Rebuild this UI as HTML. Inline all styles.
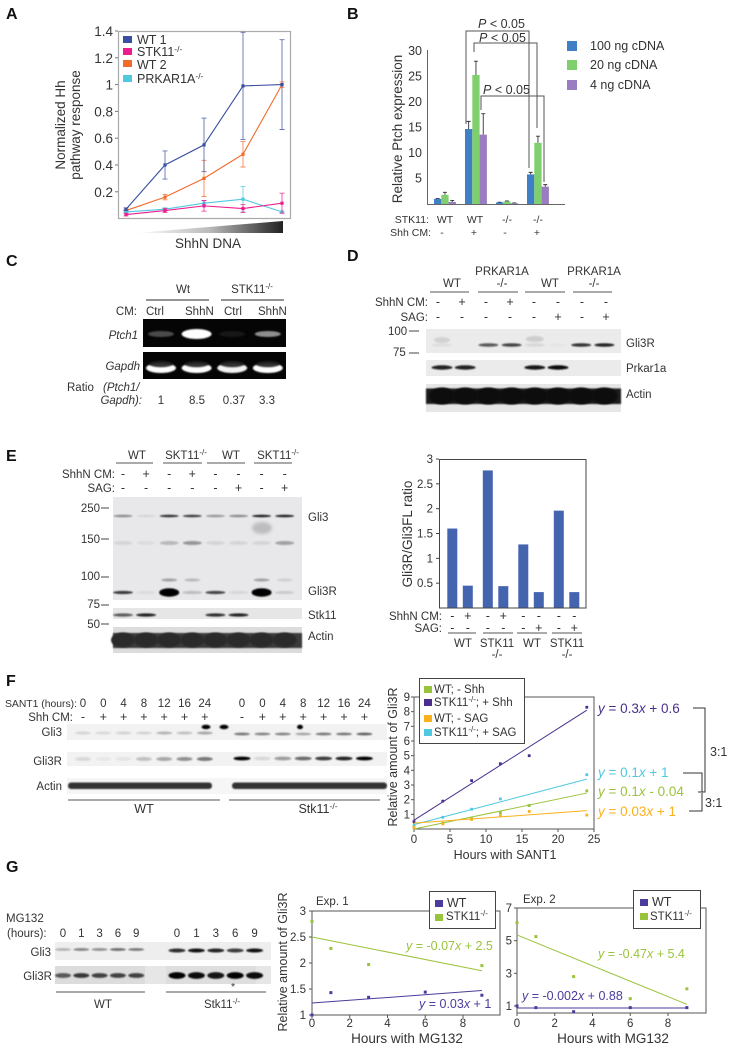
<!DOCTYPE html>
<html lang="en">
<head>
<meta charset="utf-8">
<title>Multi-panel figure</title>
<style>
html,body{margin:0;padding:0;background:#fff;width:732px;height:1050px;overflow:hidden}
svg{display:block;filter:blur(0.35px)}
text{font-family:"Liberation Sans",sans-serif;fill:#333}
.l{font-weight:bold;font-size:16px;fill:#111}
.s10{font-size:10.5px}.s11{font-size:10.5px}.s12{font-size:11.5px}.s125{font-size:12.5px}.s13{font-size:12.5px}.s135{font-size:13.5px}.s14{font-size:13.5px}
.e{text-anchor:end}.m{text-anchor:middle}
.i{font-style:italic}
sup,.sup{font-size:70%}
</style>
</head>
<body>
<svg id="fig" xmlns="http://www.w3.org/2000/svg" width="732" height="1050" viewBox="0 0 732 1050">
<defs>
<filter id="b1" x="-30%" y="-100%" width="160%" height="300%"><feGaussianBlur stdDeviation="0.8"/></filter>
<filter id="b2" x="-30%" y="-60%" width="160%" height="220%"><feGaussianBlur stdDeviation="1.6"/></filter>
<linearGradient id="wedge" x1="0" x2="1" y1="0" y2="0"><stop offset="0" stop-color="#fff"/><stop offset="0.5" stop-color="#bbb"/><stop offset="1" stop-color="#222"/></linearGradient>
</defs>

<!-- Panel letters -->
<text class="l" x="6" y="19">A</text>
<text class="l" x="347" y="19">B</text>
<text class="l" x="6" y="266">C</text>
<text class="l" x="347" y="261">D</text>
<text class="l" x="6" y="461">E</text>
<text class="l" x="6" y="686">F</text>
<text class="l" x="6" y="872">G</text>

<!-- Panel A static -->
<rect x="118.500" y="31.500" width="172" height="187" fill="none" stroke="#aaa" stroke-width="1.2"/>
<g id="a"></g>
<text class="s14 m" transform="translate(65 125) rotate(-90)">Normalized Hh</text>
<text class="s14 m" transform="translate(80 125) rotate(-90)">pathway response</text>
<rect x="123" y="36" width="9" height="7" fill="#3a4fa0"/>
<rect x="123" y="48" width="9" height="7" fill="#ec1c8e"/>
<rect x="123" y="60" width="9" height="7" fill="#f26b2a"/>
<rect x="123" y="75" width="9" height="7" fill="#4fc8e0"/>
<text class="s13" x="137" y="44">WT 1</text>
<text class="s13" x="137" y="56">STK11<tspan dy="-4" font-size="8.500">-/-</tspan></text>
<text class="s13" x="137" y="69">WT 2</text>
<text class="s13" x="137" y="83">PRKAR1A<tspan dy="-4" font-size="8.500">-/-</tspan></text>
<polygon points="135,233 283,221 283,233" fill="url(#wedge)"/>
<text class="s135 m" x="208" y="248">ShhN DNA</text>

<!-- Panel B static -->
<g id="b"></g>
<text class="s14 m" fill="#444" transform="translate(402 129) rotate(-90)">Relative Ptch expression</text>
<path d="M466 124V31H529V168" fill="none" stroke="#555" stroke-width="1"/>
<path d="M474 52V43H537V128" fill="none" stroke="#555" stroke-width="1"/>
<path d="M481 110V96H544V182" fill="none" stroke="#555" stroke-width="1"/>
<text class="s13" x="478" y="28"><tspan class="i">P</tspan> &lt; 0.05</text>
<text class="s13" x="479" y="42"><tspan class="i">P</tspan> &lt; 0.05</text>
<text class="s13" x="483" y="94"><tspan class="i">P</tspan> &lt; 0.05</text>
<rect x="567" y="41" width="10" height="10" fill="#3f7fc6"/>
<rect x="567" y="60" width="10" height="10" fill="#7fcf6e"/>
<rect x="567" y="80" width="10" height="10" fill="#9a7cc0"/>
<text class="s13" x="590" y="50">100 ng cDNA</text>
<text class="s13" x="590" y="69">20 ng cDNA</text>
<text class="s13" x="590" y="89">4 ng cDNA</text>
<text class="s10 e" x="429" y="223">STK11:</text>
<text class="s10 e" x="431" y="236">Shh CM:</text>
<text class="s10 m" x="445" y="223">WT</text>
<text class="s10 m" x="475" y="223">WT</text>
<text class="s10 m" x="507" y="223">-/-</text>
<text class="s10 m" x="538" y="223">-/-</text>
<text class="s10 m" x="442" y="236">-</text>
<text class="s10 m" x="474" y="236">+</text>
<text class="s10 m" x="505" y="236">-</text>
<text class="s10 m" x="537" y="236">+</text>

<!-- Panel C static -->
<text class="s12 m" x="183" y="293">Wt</text>
<text class="s12 m" x="252" y="293">STK11<tspan dy="-4" font-size="8">-/-</tspan></text>
<path d="M146 300H209M221 300H284" stroke="#555" stroke-width="1.200"/>
<text class="s12 e" x="137" y="315">CM:</text>
<text class="s12" x="146" y="315">Ctrl</text>
<text class="s12" x="185" y="315">ShhN</text>
<text class="s12" x="224" y="315">Ctrl</text>
<text class="s12" x="258" y="315">ShhN</text>
<g id="c"></g>
<text class="s12 e i" x="138" y="339">Ptch1</text>
<text class="s12 e i" x="140" y="370">Gapdh</text>
<text class="s12" x="67" y="391">Ratio</text>
<text class="s12 i" x="103" y="391">(Ptch1/</text>
<text class="s12 e i" x="142" y="404">Gapdh):</text>
<text class="s12 m" x="161" y="404">1</text>
<text class="s12 m" x="197" y="404">8.5</text>
<text class="s12 m" x="234" y="404">0.37</text>
<text class="s12 m" x="267" y="404">3.3</text>

<!-- Panel D static -->
<text class="s12 m" x="452" y="287">WT</text>
<text class="s12 m" x="502" y="275">PRKAR1A</text>
<text class="s12 m" x="502" y="287">-/-</text>
<text class="s12 m" x="550" y="287">WT</text>
<text class="s12 m" x="594" y="275">PRKAR1A</text>
<text class="s12 m" x="594" y="287">-/-</text>
<path d="M430 292H469M478 292H518M525 292H565M573 292H612" stroke="#555" stroke-width="1"/>
<text class="s12 e" x="428" y="306">ShhN CM:</text>
<text class="s12 e" x="428" y="321">SAG:</text>
<text class="s12" x="388" y="335">100</text>
<text class="s12" x="393" y="356">75</text>
<path d="M409 331H419M409 353H419" stroke="#444" stroke-width="1"/>
<g id="d"></g>
<text class="s12" x="626" y="347">Gli3R</text>
<text class="s12" x="626" y="372">Prkar1a</text>
<text class="s12" x="626" y="398">Actin</text>

<!-- Panel E blot static -->
<text class="s12 m" x="137" y="459">WT</text>
<text class="s12 m" x="186" y="459">SKT11<tspan dy="-4" font-size="8">-/-</tspan></text>
<text class="s12 m" x="231" y="459">WT</text>
<text class="s12 m" x="278" y="459">SKT11<tspan dy="-4" font-size="8">-/-</tspan></text>
<path d="M116 463H153M163 463H202M207 463H245M254 463H292" stroke="#555" stroke-width="1"/>
<text class="s12 e" x="115" y="478">ShhN CM:</text>
<text class="s12 e" x="115" y="492">SAG:</text>
<g id="e"></g>
<text class="s12 e" x="100" y="512">250</text>
<text class="s12 e" x="100" y="543">150</text>
<text class="s12 e" x="100" y="580">100</text>
<text class="s12 e" x="100" y="608">75</text>
<text class="s12 e" x="100" y="628">50</text>
<path d="M101 508H109M101 539H109M101 577H109M101 605H109M101 624H109" stroke="#444" stroke-width="1"/>
<text class="s12" x="308" y="521">Gli3</text>
<text class="s12" x="308" y="595">Gli3R</text>
<text class="s12" x="308" y="619">Stk11</text>
<text class="s12" x="308" y="640">Actin</text>

<!-- Panel E chart static -->
<g id="e2"></g>
<text class="s135 m" transform="translate(412 534) rotate(-90)">Gli3R/Gli3FL ratio</text>
<text class="s12 e" x="442" y="620">ShhN CM:</text>
<text class="s12 e" x="442" y="632">SAG:</text>
<path d="M448 633H476M483 633H513M517 633H547M552 633H582" stroke="#555" stroke-width="1"/>
<text class="s12 m" x="463" y="647">WT</text>
<text class="s12 m" x="497" y="647">STK11</text>
<text class="s12 m" x="497" y="658">-/-</text>
<text class="s12 m" x="532" y="647">WT</text>
<text class="s12 m" x="567" y="647">STK11</text>
<text class="s12 m" x="567" y="658">-/-</text>

<!-- Panel F blot static -->
<text class="s11" x="5" y="707" textLength="72" lengthAdjust="spacingAndGlyphs">SANT1 (hours):</text>
<text class="s12 e" x="73" y="721">Shh CM:</text>
<g id="f"></g>
<text class="s12 e" x="62" y="736">Gli3</text>
<text class="s12 e" x="62" y="765">Gli3R</text>
<text class="s12 e" x="62" y="790">Actin</text>
<path d="M68 800H220M229 800H380" stroke="#555" stroke-width="1"/>
<text class="s13 m" x="144" y="813">WT</text>
<text class="s13 m" x="318" y="813">Stk11<tspan dy="-4" font-size="8.500">-/-</tspan></text>

<!-- Panel F chart static -->
<g id="f2"></g>
<text class="s125 m" transform="translate(397 757) rotate(-90)">Relative amount of Gli3R</text>
<text class="s125 m" x="505" y="859">Hours with SANT1</text>
<rect x="419.500" y="678.500" width="105" height="65" fill="#fff" stroke="#444" stroke-width="1"/>
<rect x="424" y="686" width="8" height="7" fill="#9ac33c"/>
<rect x="424" y="699" width="8" height="7" fill="#4a2f8f"/>
<rect x="424" y="715" width="8" height="7" fill="#fbb01d"/>
<rect x="424" y="729" width="8" height="7" fill="#4fc8e0"/>
<text class="s12" x="434" y="693">WT; - Shh</text>
<text class="s12" x="434" y="706">STK11<tspan dy="-4" font-size="8">-/-</tspan><tspan dy="4">; + Shh</tspan></text>
<text class="s12" x="434" y="722">WT; - SAG</text>
<text class="s12" x="434" y="736">STK11<tspan dy="-4" font-size="8">-/-</tspan><tspan dy="4">; + SAG</tspan></text>
<text class="s14" x="598" y="713" style="fill:#4a2f8f"><tspan class="i">y</tspan> = 0.3<tspan class="i">x</tspan> + 0.6</text>
<text class="s14" x="598" y="777" style="fill:#4fc8e0"><tspan class="i">y</tspan> = 0.1<tspan class="i">x</tspan> + 1</text>
<text class="s14" x="598" y="796" style="fill:#9ac33c"><tspan class="i">y</tspan> = 0.1<tspan class="i">x</tspan> - 0.04</text>
<text class="s14" x="598" y="816" style="fill:#fbb01d"><tspan class="i">y</tspan> = 0.03<tspan class="i">x</tspan> + 1</text>
<path d="M693 708H705V792H698" fill="none" stroke="#333" stroke-width="1"/>
<path d="M683 773H702V792M689 811H702V793" fill="none" stroke="#333" stroke-width="1"/>
<text class="s13" x="710" y="756">3:1</text>
<text class="s13" x="705" y="807">3:1</text>

<!-- Panel G blot static -->
<text class="s12" x="6" y="922">MG132</text>
<text class="s12" x="7" y="937">(hours):</text>
<g id="g"></g>
<text class="s12 e" x="51" y="956">Gli3</text>
<text class="s12 e" x="52" y="980">Gli3R</text>
<path d="M56 992H145M166 992H266" stroke="#555" stroke-width="1"/>
<text class="s12 m" x="103" y="1008">WT</text>
<text class="s12 m" x="222" y="1008">Stk11<tspan dy="-4" font-size="8">-/-</tspan></text>
<text class="s10 m" x="233" y="990">*</text>

<!-- Panel G charts static -->
<g id="g1"></g>
<g id="g2"></g>
<text class="s125 m" transform="translate(287 962) rotate(-90)">Relative amount of Gli3R</text>
<text class="s12" x="316" y="905">Exp. 1</text>
<text class="s12" x="523" y="903">Exp. 2</text>
<text class="s135 m" x="407" y="1043">Hours with MG132</text>
<text class="s135 m" x="613" y="1043">Hours with MG132</text>
<rect x="429.500" y="891.500" width="66" height="37" fill="#fff" stroke="#444" stroke-width="1"/>
<rect x="435" y="900" width="8" height="7" fill="#4a3c9c"/>
<rect x="435" y="914" width="8" height="7" fill="#9ac33c"/>
<text class="s13" x="447" y="907">WT</text>
<text class="s12" x="446" y="920">STK11<tspan dy="-4" font-size="8">-/-</tspan></text>
<rect x="633.500" y="890.500" width="67" height="38" fill="#fff" stroke="#444" stroke-width="1"/>
<rect x="640" y="899" width="8" height="7" fill="#4a3c9c"/>
<rect x="640" y="913" width="8" height="7" fill="#9ac33c"/>
<text class="s13" x="652" y="906">WT</text>
<text class="s12" x="650" y="920">STK11<tspan dy="-4" font-size="8">-/-</tspan></text>
<text class="s125" x="406" y="950" style="fill:#9ac33c"><tspan class="i">y</tspan> = -0.07<tspan class="i">x</tspan> + 2.5</text>
<text class="s125" x="419" y="1008" style="fill:#4a3c9c"><tspan class="i">y</tspan> = 0.03<tspan class="i">x</tspan> + 1</text>
<text class="s125" x="598" y="958" style="fill:#9ac33c"><tspan class="i">y</tspan> = -0.47<tspan class="i">x</tspan> + 5.4</text>
<text class="s125" x="522" y="1000" style="fill:#4a3c9c"><tspan class="i">y</tspan> = -0.002<tspan class="i">x</tspan> + 0.88</text>
</svg>

<script>
// ---- Panel A data
const aCategories = [0, 1, 2, 3, 4];
const aYTicks = [0.2, 0.4, 0.6, 0.8, 1, 1.2, 1.4];
const aWt1 = [0.07, 0.40, 0.55, 0.99, 1.00];
const aWt1Err = [0.01, 0.105, 0.20, 0.40, 0.335];
const aStk11 = [0.03, 0.06, 0.095, 0.075, 0.115];
const aStk11Err = [0.01, 0.015, 0.04, 0.03, 0.075];
const aWt2 = [0.06, 0.16, 0.30, 0.48, 1.00];
const aWt2Err = [0.005, 0.02, 0.135, 0.095, 0.02];
const aPrkar = [0.05, 0.07, 0.115, 0.145, 0.05];
const aPrkarErr = [0.005, 0.01, 0.02, 0.095, 0.005];

// ---- Panel B data
const bYTicks = [5, 10, 15, 20, 25, 30];
const b100ng = [1.0, 14.7, 0.3, 5.8];
const b100ngErr = [0.1, 1.5, 0.05, 0.4];
const b20ng = [1.8, 25.3, 0.5, 12.0];
const b20ngErr = [0.5, 2.7, 0.1, 1.3];
const b4ng = [0.4, 13.6, 0.15, 3.4];
const b4ngErr = [0.3, 4.1, 0.05, 0.4];

// ---- Panel E ratio chart data
const e2Ratios = [1.6, 0.45, 2.77, 0.44, 1.28, 0.32, 1.96, 0.32];
const e2YTicks = [0.5, 1, 1.5, 2, 2.5, 3];
const e2YTickLabels = ['0.5', '1', '1.5', '2', '2.5', '3'];
const signsShhn = ['-', '+', '-', '+', '-', '-', '-', '-'];
const signsSag = ['-', '-', '-', '-', '-', '+', '-', '+'];

// ---- Panel F chart data
const fHours = [0, 4, 8, 12, 16, 24];
const fXTicks = [0, 5, 10, 15, 20, 25];
const fYTicks = [1, 2, 3, 4, 5, 6, 7, 8, 9];
const fStkShh = [0.5, 1.9, 3.3, 4.45, 5.0, 8.3];
const fStkSag = [0.2, 0.8, 1.35, 2.05, 1.6, 3.7];
const fWtShh = [0.1, 0.4, 0.7, 1.1, 1.6, 2.6];
const fWtSag = [0.1, 0.35, 0.65, 0.9, 1.2, 0.95];
const fFitStkShh = [0.6, 8.1];
const fFitStkSag = [0.3, 3.4];
const fFitWtShh = [0.0, 2.45];
const fFitWtSag = [0.4, 1.25];
const fSantHoursWt = ['0', '0', '4', '8', '12', '16', '24'];
const fSantHoursKo = ['0', '0', '4', '8', '12', '16', '24'];
const fShhSigns = ['-', '+', '+', '+', '+', '+', '+'];

// ---- Panel G chart data
const gHours = [0, 1, 3, 6, 9];
const gXTicks = [0, 2, 4, 6, 8];
const g1YTicks = [1, 1.5, 2, 2.5, 3];
const g2YTicks = [1, 3, 5, 7];
const g1Wt = [1.0, 1.43, 1.34, 1.44, 1.38];
const g1Stk = [2.8, 2.28, 1.97, null, 1.95];
const g1FitWt = [1.23, 1.47];
const g1FitStk = [2.5, 1.85];
const g2Wt = [1.0, 0.9, 0.65, 0.9, 0.9];
const g2Stk = [6.1, 5.25, 2.8, 1.45, 2.05];
const g2FitWt = [0.88, 0.88];
const g2FitStk = [5.35, 1.1];
const gHourLabels = ['0', '1', '3', '6', '9'];

// ---- Blot band intensities
const cPtch1 = [0.28, 1, 0.07, 0.55];
const cGapdh = [1, 1, 0.95, 1];
const dGli3r = [0.05, 0, 0.62, 0.7, 0.08, 0.02, 0.78, 0.85];
const dPrkar = [0.85, 0.85, 0, 0, 0.9, 0.95, 0, 0];
const eGli3 = [0.4, 0.08, 0.8, 0.75, 0.35, 0.4, 0.88, 0.88];
const eMid = [0.08, 0.05, 0.2, 0.35, 0.08, 0.08, 0.08, 0.3];
const eFaint = [0, 0, 0.3, 0.2, 0, 0, 0.3, 0.1];
const eGli3r = [0.75, 0.05, 1, 0.18, 0.7, 0.07, 1, 0.12];
const eStk11 = [0.6, 0.85, 0, 0, 0.8, 0.85, 0, 0];
const fGli3Wt = [0.12, 0.1, 0.12, 0.12, 0.25, 0.2, 0.3];
const fGli3Ko = [0.5, 0.45, 0.45, 0.3, 0.5, 0.5, 0.6];
const fGli3rWt = [0.1, 0.04, 0.05, 0.2, 0.3, 0.4, 0.5];
const fGli3rKo = [1, 0.1, 0.35, 0.55, 0.75, 0.85, 1];
const gGli3Wt = [0.25, 0.45, 0.4, 0.55, 0.5];
const gGli3Ko = [0.8, 0.92, 0.85, 0.75, 0.92];
const gGli3rWt = [0.6, 0.75, 0.7, 0.7, 0.7];
const gGli3rKo = [1, 0.95, 0.9, 1, 0.95];

// ---- helpers
const NS = 'http://www.w3.org/2000/svg';
function node(parent, tag, attrs, name) {
  const el = document.createElementNS(NS, tag);
  for (const k in attrs) el.setAttribute(k, attrs[k]);
  
  
  parent.appendChild(el);
  return el;
}
function label(parent, x, y, str, cls, name) {
  const el = node(parent, 'text', {x: x, y: y, class: cls}, name);
  el.textContent = str;
  return el;
}
function linear(d0, d1, r0, r1) { return v => r0 + (v - d0) * (r1 - r0) / (d1 - d0); }
function polyline(parent, xs, ys, color, width, name) {
  const pts = xs.map((x, i) => x + ',' + ys[i]).join(' ');
  return node(parent, 'polyline', {points: pts, fill: 'none', stroke: color, 'stroke-width': width}, name);
}

// ---- Panel A
(function () {
  const g = document.getElementById('a');
  const x = linear(0, 4, 126, 282);
  const y = linear(0, 1.4, 218.6, 31);
  aYTicks.forEach(t => {
    node(g, 'line', {x1: 115, x2: 118, y1: y(t), y2: y(t), stroke: '#777'}, 'a-y-tick');
    label(g, 113, y(t) + 5, String(t), 's14 e', 'a-y-tick-label');
  });
  const series = [
    [aWt2, aWt2Err, '#f26b2a', 'wt2'],
    [aPrkar, aPrkarErr, '#4fc8e0', 'prkar1a'],
    [aWt1, aWt1Err, '#3a4fa0', 'wt1'],
    [aStk11, aStk11Err, '#ec1c8e', 'stk11']
  ];
  series.forEach(s => {
    const vals = s[0], errs = s[1], col = s[2], id = s[3];
    aCategories.forEach((c, i) => {
      const xx = x(c);
      const path = 'M' + (xx - 2.5) + ' ' + y(vals[i] + errs[i]) + 'H' + (xx + 2.5) +
        'M' + xx + ' ' + y(vals[i] + errs[i]) + 'V' + y(vals[i] - errs[i]) +
        'M' + (xx - 2.5) + ' ' + y(vals[i] - errs[i]) + 'H' + (xx + 2.5);
      node(g, 'path', {d: path, stroke: col, 'stroke-width': 0.9, fill: 'none', opacity: 0.8}, 'a-error-bar-' + id);
    });
    polyline(g, aCategories.map(x), vals.map(y), col, 1.1, 'a-line-' + id);
    aCategories.forEach((c, i) => {
      node(g, 'rect', {x: x(c) - 1.6, y: y(vals[i]) - 1.6, width: 3.2, height: 3.2, fill: col}, 'a-point-' + id);
    });
  });
})();

// ---- Panel B
(function () {
  const g = document.getElementById('b');
  const x0 = linear(0, 3, 434, 527);
  const y = linear(0, 30, 204, 51);
  const bw = 7.3;
  bYTicks.forEach(t => {
    label(g, 422, y(t) + 4, String(t), 's13 e', 'b-y-tick-label');
  });
  const series = [[b100ng, b100ngErr, '#3f7fc6', '100ng'], [b20ng, b20ngErr, '#7fcf6e', '20ng'], [b4ng, b4ngErr, '#9a7cc0', '4ng']];
  series.forEach((s, si) => {
    s[0].forEach((v, i) => {
      const bx = x0(i) + si * bw;
      const cx = bx + bw / 2;
      node(g, 'path', {d: 'M' + cx + ' ' + y(v) + 'V' + y(v + s[1][i]) + 'M' + (cx - 2) + ' ' + y(v + s[1][i]) + 'H' + (cx + 2), stroke: '#333', 'stroke-width': 0.9, fill: 'none'}, 'b-error-bar-' + s[3]);
      node(g, 'rect', {x: bx, y: y(v), width: bw, height: y(0) - y(v), fill: s[2]}, 'b-bar-' + s[3]);
    });
  });
  node(g, 'path', {d: 'M427.5 50V204.500H565', stroke: '#666', 'stroke-width': 1, fill: 'none'}, 'b-axes');
})();

// ---- Blot helpers
function rectBg(g, x, y, w, h, col, name) { node(g, 'rect', {x: x, y: y, width: w, height: h, fill: col}, name); }
function band(g, x, y, rx, ry, alpha, col, name) {
  if (alpha <= 0) return;
  node(g, 'ellipse', {cx: x, cy: y, rx: rx, ry: ry, fill: col || '#000', opacity: alpha, filter: 'url(#b1)'}, name);
}
function lane(start, step) { return i => start + i * step; }

// ---- Panel C
(function () {
  const g = document.getElementById('c');
  const lx = lane(161, 35.6);
  rectBg(g, 143, 319, 143, 28, '#050505', 'c-ptch1-gel');
  rectBg(g, 143, 352, 143, 27, '#050505', 'c-gapdh-gel');
  cPtch1.forEach((a, i) => band(g, lx(i), 334, a > 0.9 ? 15 : 13, a > 0.9 ? 5 : 3, a, '#fff', 'c-ptch1-band'));
  cGapdh.forEach((a, i) => {
    band(g, lx(i), 368, 15, 5, a, '#fff', 'c-gapdh-band');
    band(g, lx(i), 364, 12, 3.2, 0.9, '#1a1a1a', 'c-gapdh-band-shadow');
  });
})();

// ---- Panel D
(function () {
  const g = document.getElementById('d');
  const lx = lane(442, 23.2);
  const sx = lane(438, 24);
  signsShhn.forEach((s, i) => label(g, sx(i), 306, s, 's13 m', 'd-shhn-sign'));
  signsSag.forEach((s, i) => label(g, sx(i), 321, s, 's13 m', 'd-sag-sign'));
  rectBg(g, 426, 329, 195, 24, '#ebebeb', 'd-gli3r-membrane');
  rectBg(g, 426, 360, 195, 16, '#ebebeb', 'd-prkar1a-membrane');
  rectBg(g, 426, 384, 195, 28, '#e6e6e6', 'd-actin-membrane');
  band(g, lx(0), 340, 8, 3, 0.1, '#000', 'd-gli3r-faint-band');
  band(g, lx(4), 339, 9, 3, 0.12, '#000', 'd-gli3r-faint-band');
  dGli3r.forEach((a, i) => band(g, lx(i), 345, 10, 1.8, a, '#000', 'd-gli3r-band'));
  dPrkar.forEach((a, i) => band(g, lx(i), 367.5, 10.5, 2.2, a, '#000', 'd-prkar1a-band'));
  node(g, 'rect', {x: 426, y: 388.5, width: 195, height: 15.5, fill: '#1c1c1c', filter: 'url(#b1)'}, 'd-actin-strip');
  dPrkar.forEach((a, i) => {
    node(g, 'ellipse', {cx: lx(i), cy: 396, rx: 13, ry: 8.5, fill: '#111', filter: 'url(#b1)'}, 'd-actin-band');
  });
})();

// ---- Panel E blot
(function () {
  const g = document.getElementById('e');
  const lx = lane(123, 23.1);
  signsShhn.forEach((s, i) => label(g, lx(i), 478, s, 's13 m', 'e-shhn-sign'));
  signsSag.forEach((s, i) => label(g, lx(i), 492, s, 's13 m', 'e-sag-sign'));
  rectBg(g, 113, 497, 189, 103, '#e8e8ea', 'e-gli3-membrane');
  rectBg(g, 113, 608, 189, 11, '#e6e6e6', 'e-stk11-membrane');
  rectBg(g, 113, 627, 189, 26, '#dcdcdc', 'e-actin-membrane');
  eGli3.forEach((a, i) => band(g, lx(i), 516, 9.5, 1.3, a, '#000', 'e-gli3-band'));
  eMid.forEach((a, i) => band(g, lx(i), 543, 9.5, 2, a, '#000', 'e-mid-band'));
  eFaint.forEach((a, i) => band(g, lx(i), 580, 8, 1.5, a, '#000', 'e-faint-band'));
  eGli3r.forEach((a, i) => band(g, lx(i), 592.5, 10, a > 0.9 ? 4.2 : 1.6, a, '#000', 'e-gli3r-band'));
  eStk11.forEach((a, i) => band(g, lx(i), 615, 10, 1.6, a, '#000', 'e-stk11-band'));
  node(g, 'ellipse', {cx: 262, cy: 528, rx: 10, ry: 6, fill: '#000', opacity: 0.18, filter: 'url(#b2)'}, 'e-gli3-smear');
  node(g, 'rect', {x: 113, y: 633, width: 189, height: 15, fill: '#3a3a3a', filter: 'url(#b1)'}, 'e-actin-strip');
  eGli3.forEach((a, i) => {
    node(g, 'ellipse', {cx: lx(i), cy: 640, rx: 12, ry: 7.5, fill: '#2c2c2c', filter: 'url(#b1)'}, 'e-actin-band');
  });
})();

// ---- Panel E bar chart
(function () {
  const g = document.getElementById('e2');
  const y = linear(0, 3, 608, 459);
  const bw = 10;
  const x = i => 452.3 + Math.floor(i / 2) * 35.5 + (i % 2) * 15.5;
  e2Ratios.forEach((v, i) => {
    node(g, 'rect', {x: x(i) - bw / 2, y: y(v), width: bw, height: y(0) - y(v), fill: '#4464b0'}, 'e-ratio-bar');
  });
  node(g, 'rect', {x: 439.5, y: 459.5, width: 146.5, height: 148.5, fill: 'none', stroke: '#444', 'stroke-width': 1}, 'e-chart-frame');
  e2YTicks.forEach((t, i) => {
    node(g, 'line', {x1: 436, x2: 439, y1: y(t), y2: y(t), stroke: '#444'}, 'e-y-tick');
    label(g, 433, y(t) + 4, e2YTickLabels[i], 's12 e', 'e-y-tick-label');
  });
  signsShhn.forEach((s, i) => label(g, x(i), 620, s, 's13 m', 'e-chart-shhn-sign'));
  signsSag.forEach((s, i) => label(g, x(i), 632, s, 's13 m', 'e-chart-sag-sign'));
})();

// ---- Panel F blot
(function () {
  const g = document.getElementById('f');
  const wx = lane(83, 20.3);
  const kx = lane(242, 20.4);
  fSantHoursWt.forEach((s, i) => label(g, wx(i), 707, s, 's12 m', 'f-hour-label-wt'));
  fSantHoursKo.forEach((s, i) => label(g, kx(i), 707, s, 's12 m', 'f-hour-label-ko'));
  fShhSigns.forEach((s, i) => label(g, wx(i), 721, s, 's13 m', 'f-shh-sign-wt'));
  fShhSigns.forEach((s, i) => label(g, kx(i), 721, s, 's13 m', 'f-shh-sign-ko'));
  rectBg(g, 67, 724, 320, 16, '#f2f2f2', 'f-gli3-membrane');
  rectBg(g, 67, 752, 320, 14, '#f2f2f2', 'f-gli3r-membrane');
  rectBg(g, 67, 778, 320, 16, '#f6f6f6', 'f-actin-membrane');
  fGli3Wt.forEach((a, i) => band(g, wx(i), 733, 8, 1.5, a, '#000', 'f-gli3-band-wt'));
  fGli3Ko.forEach((a, i) => band(g, kx(i), 734, 8, 1.4, a, '#000', 'f-gli3-band-ko'));
  band(g, 206, 727, 4.5, 2.2, 1, '#000', 'f-gli3-spot');
  band(g, 224, 727, 4.5, 2.2, 1, '#000', 'f-gli3-spot');
  band(g, 300, 727, 3, 2.2, 1, '#000', 'f-gli3-spot');
  fGli3rWt.forEach((a, i) => band(g, wx(i), 759, 8, 2, a, '#000', 'f-gli3r-band-wt'));
  fGli3rKo.forEach((a, i) => band(g, kx(i), 758.5, 8.5, 1.9, a, '#000', 'f-gli3r-band-ko'));
  node(g, 'rect', {x: 68, y: 782.5, width: 144, height: 6.5, rx: 3, fill: '#333', filter: 'url(#b1)'}, 'f-actin-band-wt');
  node(g, 'rect', {x: 232, y: 782.5, width: 155, height: 6.5, rx: 3, fill: '#333', filter: 'url(#b1)'}, 'f-actin-band-ko');
})();

// ---- Panel F chart
(function () {
  const g = document.getElementById('f2');
  const x = linear(0, 25, 414, 594);
  const y = linear(0, 9, 829, 697);
  node(g, 'rect', {x: x(0), y: y(9), width: x(25) - x(0), height: y(0) - y(9), fill: 'none', stroke: '#555', 'stroke-width': 1}, 'f-chart-frame');
  fYTicks.forEach(t => {
    node(g, 'line', {x1: 411, x2: 414, y1: y(t), y2: y(t), stroke: '#555'}, 'f-y-tick');
    label(g, 410, y(t) + 4, String(t), 's12 e', 'f-y-tick-label');
  });
  fXTicks.forEach(t => {
    node(g, 'line', {x1: x(t), x2: x(t), y1: 829, y2: 832, stroke: '#555'}, 'f-x-tick');
    label(g, x(t), 843, String(t), 's12 m', 'f-x-tick-label');
  });
  const series = [
    [fStkShh, fFitStkShh, '#4a2f8f', 'stk11-shh'],
    [fStkSag, fFitStkSag, '#4fc8e0', 'stk11-sag'],
    [fWtShh, fFitWtShh, '#9ac33c', 'wt-shh'],
    [fWtSag, fFitWtSag, '#fbb01d', 'wt-sag']
  ];
  series.forEach(s => {
    polyline(g, [x(0), x(24)], s[1].map(y), s[2], 1, 'f-fit-line-' + s[3]);
    s[0].forEach((v, i) => {
      node(g, 'rect', {x: x(fHours[i]) - 1.4, y: y(v) - 1.4, width: 2.8, height: 2.8, fill: s[2]}, 'f-point-' + s[3]);
    });
  });
})();

// ---- Panel G blot
(function () {
  const g = document.getElementById('g');
  const wx = lane(63, 18.3);
  const kx = lane(177, 19.4);
  gHourLabels.forEach((s, i) => label(g, wx(i), 937, s, 's12 m', 'g-hour-label-wt'));
  gHourLabels.forEach((s, i) => label(g, kx(i), 937, s, 's12 m', 'g-hour-label-ko'));
  rectBg(g, 55, 942, 216, 18, '#eeeeee', 'g-gli3-membrane');
  rectBg(g, 55, 966, 216, 18, '#e6e6e6', 'g-gli3r-membrane');
  rectBg(g, 55, 966, 90, 18, '#dcdcdc', 'g-gli3r-membrane-wt');
  rectBg(g, 166, 966, 90, 18, '#dedede', 'g-gli3r-membrane-ko');
  gGli3Wt.forEach((a, i) => band(g, wx(i), 949.5, 8, 1.4, a, '#000', 'g-gli3-band-wt'));
  gGli3Ko.forEach((a, i) => band(g, kx(i), 950.5, 8.5, 2, a, '#000', 'g-gli3-band-ko'));
  gGli3rWt.forEach((a, i) => band(g, wx(i), 975.5, 8, 2.4, a, '#000', 'g-gli3r-band-wt'));
  gGli3rKo.forEach((a, i) => band(g, kx(i), 975.5, 8.5, 3.4, a, '#000', 'g-gli3r-band-ko'));
})();

// ---- Panel G charts
function gChart(id, prefix, xLeft, xRight, yBottom, yTop, vBottom, vTop, ticks, tickEnd, wt, stk, fitWt, fitStk) {
  const g = document.getElementById(id);
  const x = linear(0, 8, xLeft, xLeft + 151);
  const y = linear(vBottom, vTop, yBottom, yTop);
  node(g, 'rect', {x: xLeft, y: yTop, width: xRight - xLeft, height: yBottom - yTop, fill: 'none', stroke: '#555', 'stroke-width': 1}, prefix + '-frame');
  ticks.forEach(t => {
    node(g, 'line', {x1: xLeft - 3, x2: xLeft, y1: y(t), y2: y(t), stroke: '#555'}, prefix + '-y-tick');
    label(g, tickEnd, y(t) + 4, String(t), 's12 e', prefix + '-y-tick-label');
  });
  gXTicks.forEach(t => {
    node(g, 'line', {x1: x(t), x2: x(t), y1: yBottom, y2: yBottom + 3, stroke: '#555'}, prefix + '-x-tick');
    label(g, x(t), 1027, String(t), 's12 m', prefix + '-x-tick-label');
  });
  polyline(g, [x(0), x(9)], fitWt.map(y), '#4a3c9c', 1, prefix + '-fit-line-wt');
  polyline(g, [x(0), x(9)], fitStk.map(y), '#9ac33c', 1, prefix + '-fit-line-stk11');
  wt.forEach((v, i) => {
    node(g, 'rect', {x: x(gHours[i]) - 1.5, y: y(v) - 1.5, width: 3, height: 3, fill: '#4a3c9c'}, prefix + '-point-wt');
  });
  stk.forEach((v, i) => {
    if (v === null) return;
    node(g, 'rect', {x: x(gHours[i]) - 1.5, y: y(v) - 1.5, width: 3, height: 3, fill: '#9ac33c'}, prefix + '-point-stk11');
  });
}
gChart('g1', 'g-exp1', 312, 500, 1015, 911, 1, 3, g1YTicks, 306, g1Wt, g1Stk, g1FitWt, g1FitStk);
gChart('g2', 'g-exp2', 517, 706, 1013, 908, 0.57, 7, g2YTicks, 512, g2Wt, g2Stk, g2FitWt, g2FitStk);
</script>
</body>
</html>
